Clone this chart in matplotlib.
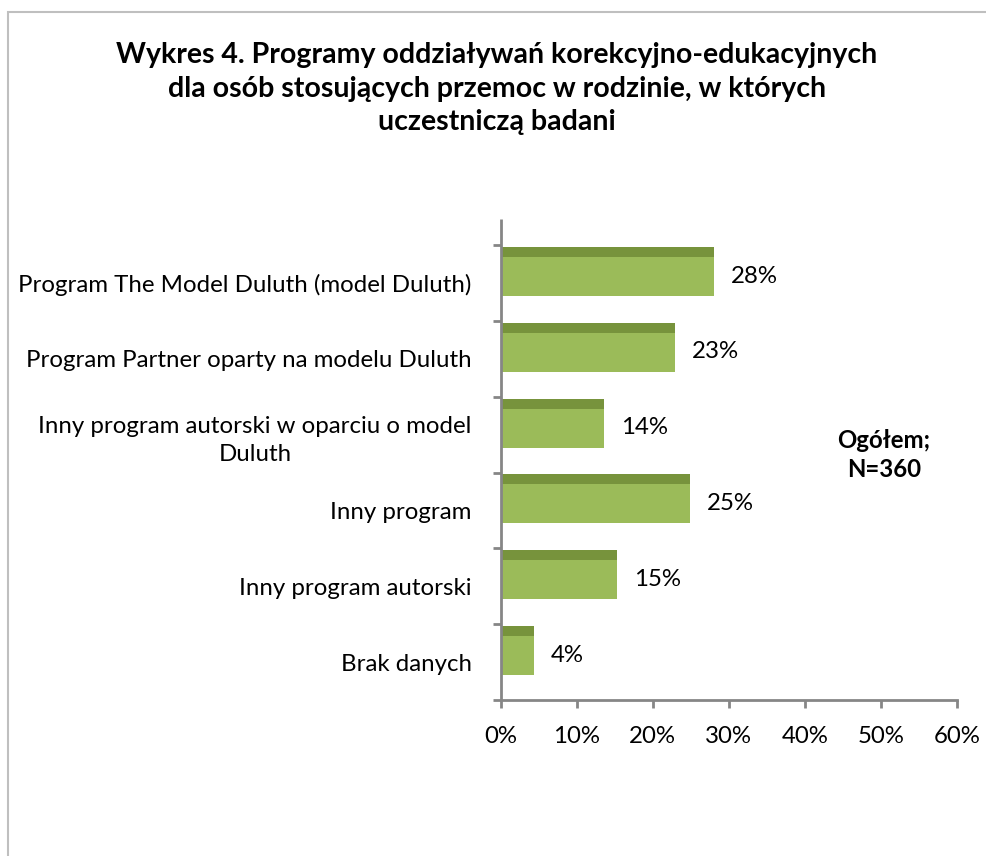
import matplotlib
matplotlib.use("Agg")
import matplotlib.pyplot as plt
from matplotlib.patches import Rectangle

categories = [
    "Program The Model Duluth (model Duluth)",
    "Program Partner oparty na modelu Duluth",
    "Inny program autorski w oparciu o model\nDuluth",
    "Inny program",
    "Inny program autorski",
    "Brak danych",
]
values = [28.1, 23.0, 13.6, 24.9, 15.3, 4.4]
xticks = [0, 10, 20, 30, 40, 50, 60]
title = ("Wykres 4. Programy oddziaływań korekcyjno-edukacyjnych\n"
         "dla osób stosujących przemoc w rodzinie, w których\n"
         "uczestniczą badani")
note = "Ogółem;\nN=360"

plt.rcParams['font.family'] = ['Lato', 'DejaVu Sans']

W, H = 987, 856
fig = plt.figure(figsize=(W / 100, H / 100), dpi=100)

# outer chart border (only left and top edges visible)
fig.patches.append(Rectangle((8 / W, -0.1), 1.2, 1.1 - 12 / H, transform=fig.transFigure,
                             fill=False, edgecolor='#BFBFBF', linewidth=1.5))

ax = fig.add_axes([500.7 / W, 1 - 700 / H, (956.7 - 500.7) / W, (700 - 245) / H])
ax.set_xlim(0, 60)
ax.set_ylim(len(categories) - 0.5, -0.5)

light = '#9BBB59'
dark = '#77933C'
ys = list(range(len(categories)))
bar_top = -0.474
bar_h = 0.645
strip_h = 0.132
ax.barh([y + bar_top for y in ys], values, height=bar_h, align='edge', color=light, zorder=2)
ax.barh([y + bar_top for y in ys], values, height=strip_h, align='edge', color=dark, zorder=3)

fs = 17.3
for y, v in zip(ys, values):
    ax.text(v + 2.2, y - 0.09, f"{round(v):d}%", va='center', ha='left', fontsize=fs, color='#000000')

for s in ['top', 'right', 'left']:
    ax.spines[s].set_visible(False)
ax.spines['bottom'].set_color('#868686')
ax.spines['bottom'].set_linewidth(2)
ax.plot([0, 0], [len(categories) - 0.5, -0.84], color='#868686', lw=2, clip_on=False,
        solid_capstyle='butt', zorder=5)

ax.set_xticks(xticks)
ax.set_xticklabels([f"{t}%" for t in xticks], fontsize=fs)
ax.tick_params(axis='x', length=6, width=2, color='#868686', pad=13, direction='out')

ax.set_yticks(ys)
ax.set_yticklabels(categories, fontsize=fs, multialignment='center', linespacing=1.45)
ax.tick_params(axis='y', which='major', length=0, pad=21)
ax.set_yticks([y - 0.5 for y in ys] + [len(categories) - 0.5], minor=True)
ax.tick_params(axis='y', which='minor', length=6, width=2, color='#868686', direction='out')

fig.text(497 / W, 1 - 88.5 / H, title, ha='center', va='center', fontsize=20.5,
         fontweight='bold', linespacing=1.36)
fig.text(884 / W, 1 - 455 / H, note, ha='center', va='center', fontsize=fs,
         fontweight='bold', linespacing=1.3)

fig.savefig("out.png", dpi=100)
